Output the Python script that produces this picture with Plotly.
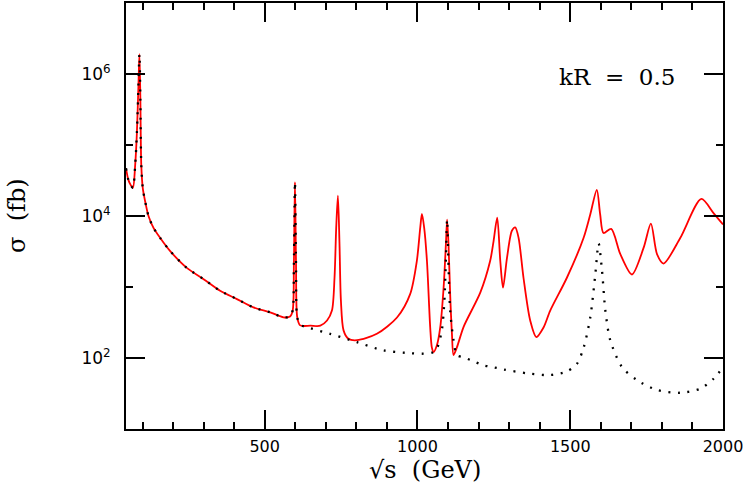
import plotly.graph_objects as go

# sqrt(s) in GeV, sigma in fb -- full model (solid red)
x_kk = [46, 54, 62, 68.6, 76, 81.7, 87, 90, 93, 96, 101, 108.8, 119.6, 136, 158, 190.7,
        245, 300, 354, 409, 463, 518, 561.5, 583, 591.5, 595.5, 599, 602.5, 606.5, 616,
        650, 682, 704, 720, 728.5, 734, 739.6, 744.8, 749.4, 758, 774, 802, 867, 933,
        976, 998, 1009, 1014.6, 1022, 1031, 1041.7, 1047, 1052.5, 1063.6, 1074.5, 1085.5,
        1093, 1097, 1101.6, 1107, 1112.8, 1118, 1129, 1151, 1205.5, 1238, 1249, 1261,
        1271, 1280, 1293, 1309, 1320, 1331, 1347, 1369, 1389, 1412.6, 1434.5, 1489,
        1543.5, 1565.5, 1587, 1598, 1609, 1634, 1664, 1702, 1740, 1764, 1784, 1805.5,
        1860, 1929, 1969, 2000]
sigma_kk = [4.7e4, 3.2e4, 2.7e4, 2.5e4, 5.2e4, 1.5e5, 7.6e5, 1.9e6, 4.5e5, 5.2e4, 2.45e4,
            1.6e4, 1.0e4, 6.8e3, 4.9e3, 3.2e3, 1.86e3, 1.29e3, 885, 676, 516, 440, 374,
            383, 465, 2.1e3, 3.0e4, 2.1e3, 374, 288, 285, 285, 337, 465, 1350, 6.8e3,
            1.93e4, 4.0e3, 645, 245, 186, 178, 219, 372, 794, 2.34e3, 6.8e3, 1.07e4,
            6.8e3, 2.34e3, 269, 141, 121, 151, 269, 977, 3.98e3, 8.9e3, 3.98e3, 794, 219,
            110, 141, 275, 832, 2.34e3, 4.4e3, 9.5e3, 2.34e3, 977, 2.57e3, 6.2e3, 6.9e3,
            4.9e3, 1.35e3, 337, 197, 269, 465, 1.35e3, 4.9e3, 1.05e4, 2.34e4, 1.05e4,
            5.75e3, 6.6e3, 2.9e3, 1.5e3, 3.55e3, 7.8e3, 2.9e3, 2.14e3, 4.9e3, 1.74e4,
            1.1e4, 7.6e3]

# reference curve (dotted black)
x_ref = [46, 54, 62, 68.6, 76, 81.7, 87, 90, 93, 96, 101, 108.8, 119.6, 136, 158, 190.7,
         245, 300, 354, 409, 463, 518, 561.5, 583, 591.5, 595.5, 599, 602.5, 606.5, 616,
         649, 714, 802, 889, 976, 1020, 1050, 1065, 1080, 1088, 1093, 1097, 1101, 1107,
         1118, 1129, 1151, 1175, 1216, 1249, 1282, 1369, 1434, 1489, 1522, 1544, 1565.5,
         1582, 1593, 1604, 1615, 1631, 1669, 1718, 1784, 1860, 1925.6, 1969, 2000]
sigma_ref = [4.7e4, 3.2e4, 2.7e4, 2.5e4, 5.2e4, 1.5e5, 7.6e5, 1.9e6, 4.5e5, 5.2e4, 2.45e4,
             1.6e4, 1.0e4, 6.8e3, 4.9e3, 3.2e3, 1.86e3, 1.29e3, 885, 676, 516, 440, 374,
             383, 465, 2.1e3, 3.0e4, 2.1e3, 374, 295, 263, 219, 167, 128, 117, 115, 120,
             141, 251, 631, 2.5e3, 8.9e3, 2.5e3, 468, 178, 110, 102, 93, 79, 74, 69, 60,
             57.5, 64.5, 83, 141, 372, 1.5e3, 4.1e3, 1.7e3, 465, 178, 75, 49, 35.5, 32.4,
             37, 51, 74]

x_tickvals = [500, 1000, 1500, 2000]
x_ticktext = ["500", "1000", "1500", "2000"]
y_tickvals = [1e2, 1e4, 1e6]
y_ticktext = ["10<sup>2</sup>", "10<sup>4</sup>", "10<sup>6</sup>"]
y_minorvals = [1e1, 1e3, 1e5, 1e7]

fig = go.Figure()
fig.add_trace(go.Scatter(x=x_kk, y=sigma_kk, mode="lines",
                         line=dict(color="#ff0000", width=1.8, shape="spline", smoothing=0.8),
                         showlegend=False))
fig.add_trace(go.Scatter(x=x_ref, y=sigma_ref, mode="lines",
                         line=dict(color="black", width=2.3, dash="2px,7.5px",
                                   shape="spline", smoothing=0.8),
                         showlegend=False))

axis_common = dict(showgrid=False, zeroline=False, showline=True, linecolor="black",
                   linewidth=2, mirror="ticks", ticks="inside", tickcolor="black",
                   tickwidth=1.5, ticklen=19)

fig.update_xaxes(range=[46, 2000], tickmode="array", tickvals=x_tickvals,
                 ticktext=x_ticktext, ticklabelstandoff=2,
                 tickfont=dict(family="DejaVu Sans", size=16, color="black"),
                 minor=dict(dtick=100, tick0=0, ticks="inside", ticklen=7,
                            tickwidth=1.5, tickcolor="black"),
                 **axis_common)
fig.update_yaxes(type="log", range=[1, 7], tickmode="array", tickvals=y_tickvals,
                 ticktext=y_ticktext, ticklabelstandoff=10,
                 tickfont=dict(family="DejaVu Sans", size=17, color="black"),
                 minor=dict(tickmode="array", tickvals=y_minorvals, ticks="inside",
                            ticklen=7, tickwidth=1.5, tickcolor="black"),
                 **axis_common)

fig.add_annotation(text="√s  (GeV)", xref="paper", yref="paper", x=0.5, y=0,
                   yshift=-41, xanchor="center", yanchor="middle", showarrow=False,
                   font=dict(family="DejaVu Serif", size=24, color="black"))
fig.add_annotation(text="σ  (fb)", xref="paper", yref="paper", x=0, y=0.5,
                   xshift=-109, xanchor="center", yanchor="middle", showarrow=False,
                   textangle=-90,
                   font=dict(family="DejaVu Serif", size=24, color="black"))
fig.add_annotation(text="kR  =  0.5", xref="paper", yref="paper", x=1, y=1,
                   xshift=-46, yshift=-74, xanchor="right", yanchor="middle",
                   showarrow=False,
                   font=dict(family="DejaVu Serif", size=23, color="black"))

fig.update_layout(width=744, height=491, margin=dict(l=126, r=21, t=1, b=62),
                  plot_bgcolor="white", paper_bgcolor="white")

fig.write_html("out.html", config={"displayModeBar": False},
               post_script="document.body.style.margin='0px';document.body.style.overflow='hidden';")
